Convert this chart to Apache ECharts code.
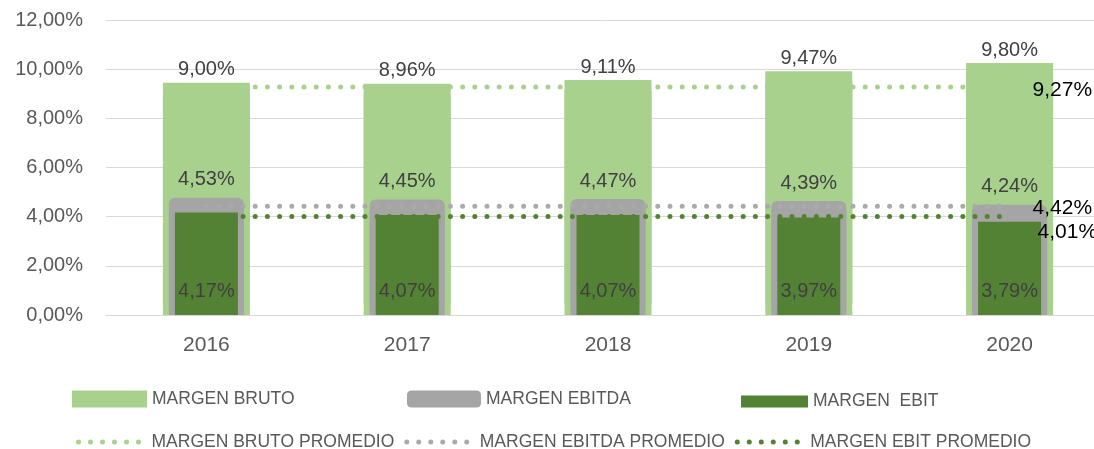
<!DOCTYPE html>
<html>
<head>
<meta charset="utf-8">
<script src="https://cdn.jsdelivr.net/npm/echarts@6/dist/echarts.min.js"></script>
<style>
html, body { margin: 0; padding: 0; background: #fff; }
#chart { width: 1094px; height: 449px; }
</style>
</head>
<body>
<div id="chart"></div>
<script>
// data
var years = ['2016', '2017', '2018', '2019', '2020'];
var margenBruto = [9.00, 8.96, 9.11, 9.47, 9.80];
var margenEbitda = [4.53, 4.45, 4.47, 4.39, 4.24];
var margenEbit = [4.17, 4.07, 4.07, 3.97, 3.79];
var brutoPromedio = [9.27, 9.27, 9.27, 9.27, 9.27];
var ebitdaPromedio = [4.42, 4.42, 4.42, 4.42, 4.42];
var ebitPromedio = [4.01, 4.01, 4.01, 4.01, 4.01];

var FONT = '"Liberation Sans", Arial, sans-serif';
var LIGHT = '#a9d18e', GRAY = '#a5a5a5', DARK = '#548235';

//format like 9,27%
function pct(v) {
    return Number(v).toFixed(2).replace('.', ',') + '%';
}

function barLabel(position) {
    return {
        show: true,
        position: position,
        distance: 14,
        color: '#404040',
        fontSize: 20,
        fontFamily: FONT,
        formatter: function (p) { return pct(p.value); }
    };
}

function dottedLine(name, data, color, dist, offset) {
    return {
        name: name,
        type: 'line',
        xAxisIndex: 0,
        data: data,
        symbol: 'none',
        color: color,
        silent: true,
        lineStyle: { color: color, width: 5, type: [0, 12.2], cap: 'round' },
        endLabel: {
            show: true,
            distance: dist,
            offset: offset,
            color: '#000',
            fontSize: 21,
            fontFamily: FONT,
            formatter: function (p) { return pct(p.value); }
        }
    };
}

//one legend box per bar series, so each swatch keeps its own size
function barLegend(name, icon, left, w, h) {
    return {
        left: left,
        top: 398.5 - h / 2,
        padding: 0,
        itemWidth: w,
        itemHeight: h,
        selectedMode: false,
        textStyle: { color: '#595959', fontSize: 17.5, fontFamily: FONT },
        data: [{ name: name, icon: icon }]
    };
}

function hiddenAxis() {
    return { type: 'category', data: years, gridIndex: 0, show: false };
}

var chart = echarts.init(document.getElementById('chart'));

var option = {
    animation: false,
    grid: { left: 106, top: 20, width: 1004, height: 295, outerBoundsMode: 'none' },
    legend: [
        barLegend('MARGEN BRUTO', 'rect', 72, 75, 17),
        barLegend('MARGEN EBITDA', 'roundRect', 407, 74, 17),
        barLegend('MARGEN  EBIT', 'rect', 741, 67, 12),
        {
            left: 70,
            top: 433,
            padding: 0,
            itemWidth: 74,
            itemHeight: 14,
            itemGap: 4,
            selectedMode: false,
            itemStyle: { opacity: 0 },
            lineStyle: { width: 5, cap: 'round', type: [0, 12], dashOffset: 6 },
            textStyle: { color: '#595959', fontSize: 17.5, fontFamily: FONT },
            data: ['MARGEN BRUTO PROMEDIO', 'MARGEN EBITDA PROMEDIO', 'MARGEN EBIT PROMEDIO']
        }
    ],
    xAxis: [{
        type: 'category',
        data: years,
        axisLine: { lineStyle: { color: '#d9d9d9', width: 1 } },
        axisTick: { show: false },
        axisLabel: { color: '#595959', fontSize: 21, fontFamily: FONT, margin: 20 }
    }, hiddenAxis(), hiddenAxis()],
    yAxis: {
        type: 'value',
        min: 0,
        max: 12,
        interval: 2,
        axisLine: { show: false },
        axisTick: { show: false },
        splitLine: { lineStyle: { color: '#d9d9d9', width: 1 } },
        axisLabel: {
            color: '#595959', fontSize: 20, fontFamily: FONT, margin: 23,
            formatter: function (v) { return pct(v); }
        }
    },
    series: [
        dottedLine('MARGEN BRUTO PROMEDIO', brutoPromedio, LIGHT, 23, [0, 3]),
        {
            name: 'MARGEN BRUTO',
            type: 'bar',
            xAxisIndex: 0,
            data: margenBruto,
            barWidth: 87,
            silent: true,
            itemStyle: { color: LIGHT, shadowColor: LIGHT, shadowBlur: 0, shadowOffsetY: -11 },
            label: barLabel('top')
        },
        {
            name: 'MARGEN EBITDA',
            type: 'bar',
            xAxisIndex: 1,
            data: margenEbitda,
            barWidth: 75,
            silent: true,
            itemStyle: { color: GRAY, borderRadius: [6, 6, 0, 0], shadowColor: GRAY, shadowBlur: 0, shadowOffsetY: -6 },
            label: barLabel('top')
        },
        {
            name: 'MARGEN  EBIT',
            type: 'bar',
            xAxisIndex: 2,
            data: margenEbit,
            barWidth: 63,
            silent: true,
            itemStyle: { color: DARK },
            label: barLabel('insideBottom')
        },
        dottedLine('MARGEN EBITDA PROMEDIO', ebitdaPromedio, '#aaaaaa', 23, [0, 2]),
        dottedLine('MARGEN EBIT PROMEDIO', ebitPromedio, DARK, 28, [0, 16])
    ]
};

chart.setOption(option);
</script>
</body>
</html>
